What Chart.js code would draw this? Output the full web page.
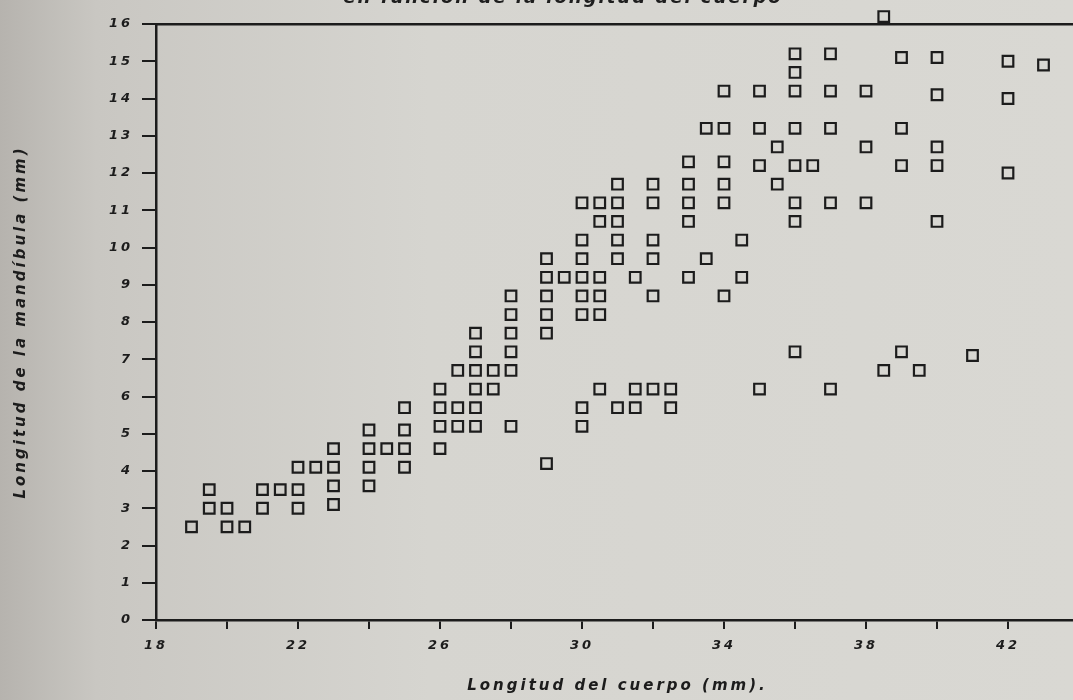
<!DOCTYPE html>
<html>
<head>
<meta charset="utf-8">
<script src="https://cdn.jsdelivr.net/npm/chart.js@4"></script>
<style>
  html, body { margin: 0; padding: 0; width: 1073px; height: 700px; overflow: hidden; }
  body { background: linear-gradient(90deg, #b6b3ae 0%, #c9c7c2 9%, #d6d5d0 40%, #d9d8d3 100%); position: relative; }
  #wrap { position: absolute; left: 0; top: 0; width: 1090px; height: 700px; }
  #topTitle {
    position: absolute; left: 0; top: -14px; width: 1126px; text-align: center;
    font: italic bold 18px "DejaVu Sans"; letter-spacing: 2px; color: #1e1e1e; white-space: nowrap;
  }
</style>
</head>
<body>
<div id="wrap"><canvas id="jawChart"></canvas></div>
<div id="topTitle">en función de la longitud del cuerpo</div>
<script>
// ===== Longitud de la mandíbula vs longitud del cuerpo =====
// one entry per square, read column by column (x = body length, y = jaw length, mm)
const bodyLength = [
  19,
  19.5, 19.5,
  20, 20,
  20.5,
  21, 21,
  21.5,
  22, 22, 22,
  22.5,
  23, 23, 23, 23,
  24, 24, 24, 24,
  24.5,
  25, 25, 25, 25,
  26, 26, 26, 26,
  26.5, 26.5, 26.5,
  27, 27, 27, 27, 27, 27,
  27.5, 27.5,
  28, 28, 28, 28, 28, 28,
  29, 29, 29, 29, 29, 29,
  29.5,
  30, 30, 30, 30, 30, 30, 30, 30,
  30.5, 30.5, 30.5, 30.5, 30.5, 30.5,
  31, 31, 31, 31, 31, 31,
  31.5, 31.5, 31.5,
  32, 32, 32, 32, 32, 32,
  32.5, 32.5,
  33, 33, 33, 33, 33,
  33.5, 33.5,
  34, 34, 34, 34, 34, 34,
  34.5, 34.5,
  35, 35, 35, 35,
  35.5, 35.5,
  36, 36, 36, 36, 36, 36, 36, 36,
  36.5,
  37, 37, 37, 37, 37,
  38, 38, 38,
  38.5, 38.5,
  39, 39, 39, 39,
  39.5,
  40, 40, 40, 40, 40,
  41,
  42, 42, 42,
  43,
];
const jawLength = [
  2.5,
  3.5, 3.0,
  3.0, 2.5,
  2.5,
  3.0, 3.5,
  3.5,
  3.5, 3.0, 4.1,
  4.1,
  4.1, 4.6, 3.6, 3.1,
  5.1, 4.6, 4.1, 3.6,
  4.6,
  5.7, 5.1, 4.6, 4.1,
  6.2, 5.7, 5.2, 4.6,
  6.7, 5.7, 5.2,
  7.7, 7.2, 6.7, 6.2, 5.7, 5.2,
  6.7, 6.2,
  8.7, 8.2, 7.7, 7.2, 6.7, 5.2,
  9.7, 9.2, 8.7, 8.2, 7.7, 4.2,
  9.2,
  11.2, 10.2, 9.7, 9.2, 8.7, 8.2, 5.7, 5.2,
  11.2, 10.7, 9.2, 8.7, 8.2, 6.2,
  11.7, 11.2, 10.7, 10.2, 9.7, 5.7,
  9.2, 6.2, 5.7,
  11.7, 11.2, 10.2, 9.7, 8.7, 6.2,
  6.2, 5.7,
  12.3, 11.7, 11.2, 10.7, 9.2,
  13.2, 9.7,
  14.2, 13.2, 12.3, 11.7, 11.2, 8.7,
  10.2, 9.2,
  14.2, 13.2, 12.2, 6.2,
  12.7, 11.7,
  15.2, 14.7, 14.2, 13.2, 12.2, 11.2, 10.7, 7.2,
  12.2,
  15.2, 14.2, 13.2, 11.2, 6.2,
  14.2, 12.7, 11.2,
  16.2, 6.7,
  15.1, 13.2, 12.2, 7.2,
  6.7,
  15.1, 14.1, 12.7, 12.2, 10.7,
  7.1,
  15.0, 14.0, 12.0,
  14.9,
];

const X_MIN = 18, X_MAX = 44, X_STEP = 2;
const Y_MIN = 0, Y_MAX = 16, Y_STEP = 1;
const X_LABEL_EVERY = 4;

const INK = '#1c1c1c';
const TICK_FONT = { family: 'DejaVu Sans', size: 13, style: 'italic', weight: 'bold' };
const TITLE_FONT = { family: 'DejaVu Sans', size: 15, style: 'italic', weight: 'bold' };

// plotter-style wide lettering
const spacedText = {
  id: 'spacedText',
  beforeDraw(chart) { chart.ctx.letterSpacing = '3px'; },
};

function renderChart() {
  const points = bodyLength.map((x, i) => ({ x, y: jawLength[i] }));
  new Chart(document.getElementById('jawChart'), {
    type: 'scatter',
    data: {
      datasets: [{
        data: points,
        pointStyle: 'rect',
        pointRadius: 7.5,
        pointHoverRadius: 7.5,
        pointBorderWidth: 2.2,
        pointBorderColor: INK,
        pointBackgroundColor: 'rgba(0,0,0,0)',
        clip: false,
      }],
    },
    options: {
      responsive: true,
      maintainAspectRatio: false,
      animation: false,
      events: [],
      layout: { padding: { top: 24, left: 0, right: 11, bottom: 0 } },
      plugins: { legend: { display: false }, tooltip: { enabled: false } },
      scales: {
        x: {
          type: 'linear', min: X_MIN, max: X_MAX,
          afterFit: s => { s.height = 80; },
          ticks: {
            stepSize: X_STEP, color: INK, font: TICK_FONT, padding: 9, maxRotation: 0, autoSkip: false,
            callback: v => ((v - X_MIN) % X_LABEL_EVERY === 0 && v < X_MAX ? v : ''),
          },
          grid: { drawOnChartArea: false, tickLength: 9, color: INK, lineWidth: 2 },
          border: { display: true, color: INK, width: 2.5 },
          title: { display: true, text: 'Longitud del cuerpo (mm).', color: INK, font: TITLE_FONT, padding: { top: 0, bottom: 5 } },
        },
        xTop: {
          type: 'linear', position: 'top', min: X_MIN, max: X_MAX,
          afterFit: s => { s.height = 0; },
          ticks: { display: false },
          grid: { drawOnChartArea: false, drawTicks: false, color: INK },
          border: { display: true, color: INK, width: 2.5 },
        },
        y: {
          min: Y_MIN, max: Y_MAX,
          afterFit: s => { s.width = 156; },
          ticks: { stepSize: Y_STEP, color: INK, font: TICK_FONT, padding: 9, autoSkip: false },
          grid: { drawOnChartArea: false, tickLength: 14, color: INK, lineWidth: 2 },
          border: { display: true, color: INK, width: 2.5 },
          title: { display: true, text: 'Longitud de la mandíbula (mm)', color: INK, font: TITLE_FONT, padding: { top: 12, bottom: 0 } },
        },
      },
    },
    plugins: [spacedText],
  });
}

renderChart();
</script>
</body>
</html>
